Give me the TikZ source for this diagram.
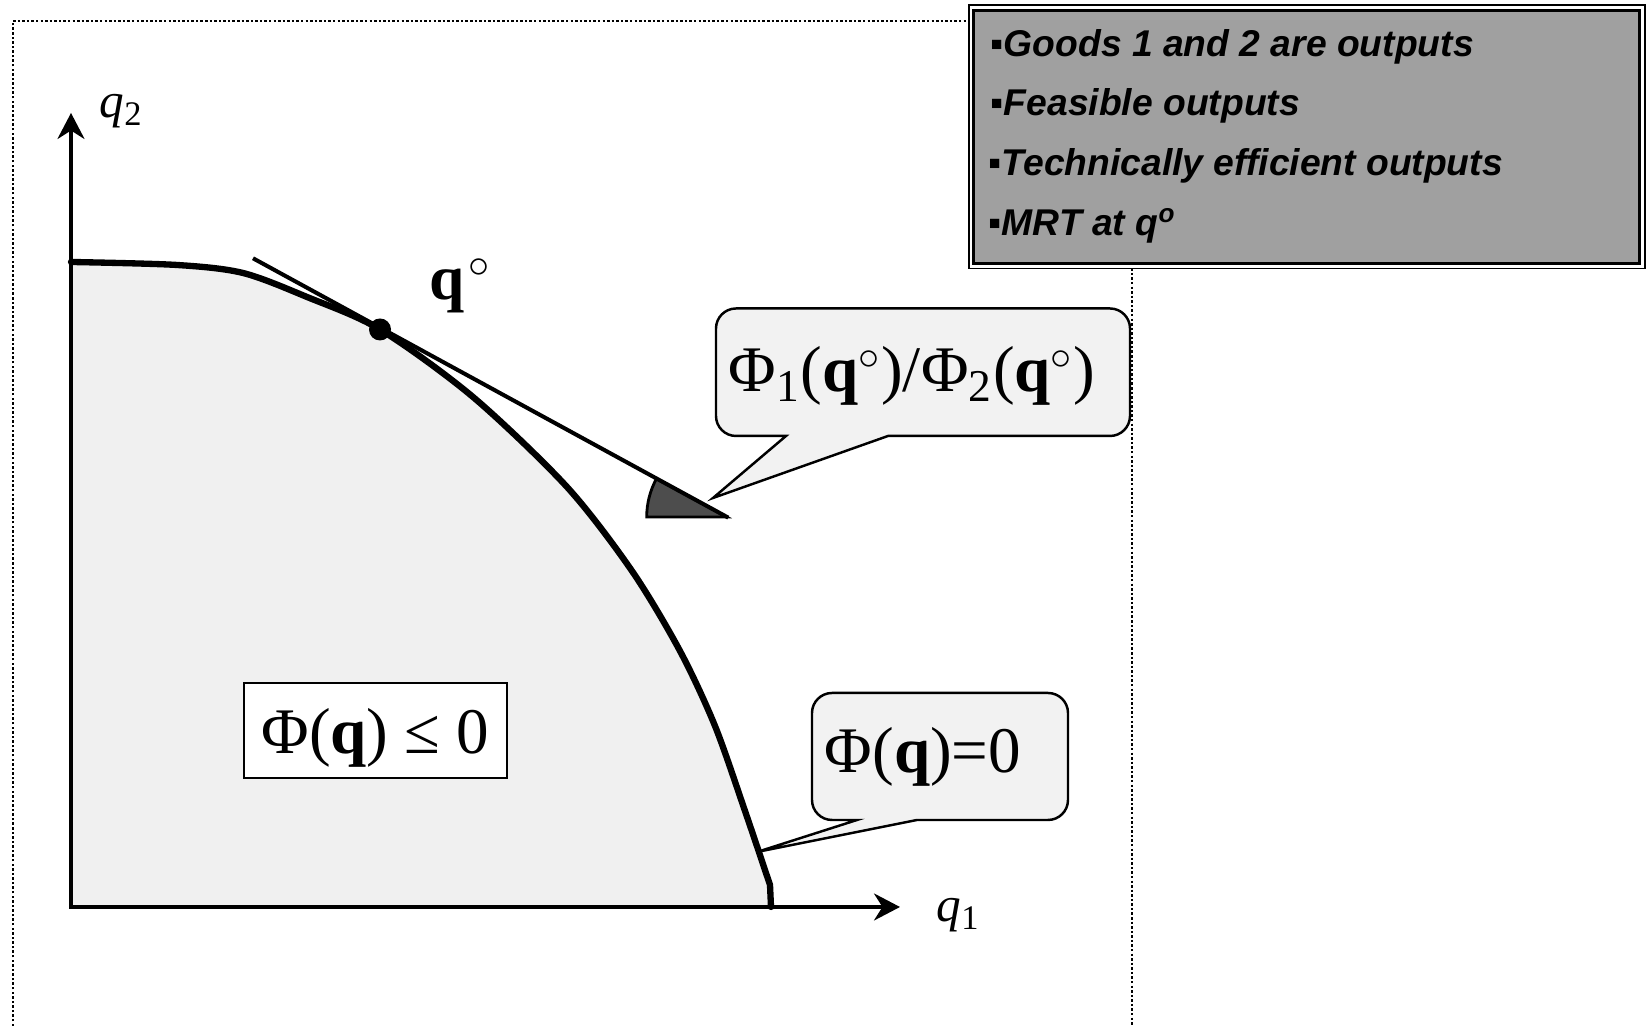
\documentclass[tikz,border=0pt]{standalone}
\usepackage{fontspec}
\setmainfont{Liberation Serif}
\newfontfamily\notefont{Liberation Sans}
\usepackage{tikz}
\usetikzlibrary{arrows.meta, positioning, calc}
\usepackage{amsmath}
\usepackage{amssymb}

\definecolor{feasgray}{RGB}{240,240,240}
\definecolor{bubblegray}{RGB}{242,242,242}
\definecolor{notegray}{RGB}{160,160,160}
\definecolor{anglegray}{RGB}{77,77,77}

\begin{document}
\begin{tikzpicture}[
  big/.style={font=\fontsize{18.5}{22}\selectfont, inner sep=0pt},
  axislab/.style={font=\fontsize{14}{16}\selectfont, inner sep=0pt, anchor=base west},
  note/.style={font=\notefont\bfseries\itshape\fontsize{10.6}{12}\selectfont, inner sep=0pt, anchor=base west},
  axis/.style={line width=1pt, {Stealth[length=0.26cm, width=0.27cm]}-{Stealth[length=0.26cm, width=0.27cm]}},
  bubble/.style={draw=black, line width=0.7pt, fill=bubblegray},
  frontier/.style={line width=1.8pt, line cap=round, line join=round}]

  \useasboundingbox (0,0) rectangle (16.51,10.26);

  % --- dotted frame ---
  \draw[line width=0.7pt, dash pattern=on 0.7pt off 0.6pt]
    (0.13,0) -- (0.13,10.05) -- (11.32,10.05) -- (11.32,0);

  % --- feasible set and frontier ---
  \coordinate (O) at (0.71,1.19);
  \coordinate (xend) at (9.00,1.19);
  \coordinate (yend) at (0.71,9.13);
  \coordinate (qo) at (3.80,6.965);
  \fill[feasgray] (O) -- plot[smooth, tension=0.5] coordinates {
      (0.71,7.64) (1.77,7.61) (2.43,7.53) (3.07,7.29) (3.80,6.965) (4.73,6.29)
      (5.67,5.39) (6.32,4.55) (6.80,3.75) (7.15,3.00) (7.45,2.15) (7.70,1.41)}
    -- (7.71,1.19) -- cycle;
  \draw[axis] (yend) -- (O) -- (xend);
  \draw[frontier] plot[smooth, tension=0.5] coordinates {
      (0.71,7.64) (1.77,7.61) (2.43,7.53) (3.07,7.29) (3.80,6.965) (4.73,6.29)
      (5.67,5.39) (6.32,4.55) (6.80,3.75) (7.15,3.00) (7.45,2.15) (7.70,1.41)}
    -- (7.71,1.19);
  \node[axislab] (ylab) at (0.99,9.08) {\textit{q}\textsubscript{2}};
  \node[axislab] (xlab) at (9.36,1.04) {\textit{q}\textsubscript{1}};

  % --- tangent at q and its angle ---
  \coordinate (tanA) at (2.53,7.677);
  \coordinate (vert) at (7.267,5.09);
  \coordinate (tanB) at (7.283,5.083);
  \draw[fill=anglegray, line width=0.8pt] (vert) -- ++(180:0.8)
    arc[start angle=180, end angle=151.4, radius=0.8] -- cycle;
  \draw[line width=1.15pt] (tanA) -- (tanB);
  \fill (qo) circle (0.11);
  \node[font=\fontsize{18}{20}\selectfont, inner sep=0pt, anchor=base west] (qlab) at (4.29,7.26) {\textbf{q}\kern1pt$^\circ$};

  % --- callout: ratio of derivatives ---
  \coordinate (ratiotip) at (7.13,5.28);
  \draw[bubble] (ratiotip) -- (8.88,5.90) [rounded corners=0.2cm] -- (11.30,5.90)
    -- (11.30,7.175) -- (7.16,7.175) -- (7.16,5.90) [sharp corners] -- (7.86,5.90) -- cycle;
  \node[big, anchor=base] (ratio) at (9.12,6.34)
    {Φ\textsubscript{1}(\textbf{q}$^\circ$)/Φ\textsubscript{2}(\textbf{q}$^\circ$)};

  % --- callout: frontier ---
  \coordinate (zerotip) at (7.57,1.74);
  \draw[bubble] (zerotip) -- (9.17,2.06) [rounded corners=0.2cm] -- (10.68,2.06)
    -- (10.68,3.33) -- (8.12,3.33) -- (8.12,2.06) [sharp corners] -- (8.57,2.06) -- cycle;
  \node[big, anchor=base] (zero) at (9.23,2.53) {Φ(\textbf{q})=0};

  % --- feasible set label ---
  \node[big, draw, fill=white, line width=0.5pt, text depth=0pt,
    minimum width=2.63cm, minimum height=0.95cm] (feas) at (3.755,2.955) {Φ(\textbf{q}) ≤ 0};

  % --- notes box ---
  \draw[line width=0.5pt, fill=white] (9.687,7.575) rectangle (16.447,10.207);
  \draw[line width=1pt, fill=notegray] (9.737,7.625) rectangle (16.397,10.157);
  \node[note] (goods) at (9.90,9.69) {▪Goods 1 and 2 are outputs};
  \node[note] (feasnote) at (9.90,9.10) {▪Feasible outputs};
  \node[note] (technote) at (9.88,8.50) {▪Technically efficient outputs};
  \node[note] (mrtnote) at (9.88,7.90) {▪MRT at q\textsuperscript{o}};
\end{tikzpicture}
\end{document}
